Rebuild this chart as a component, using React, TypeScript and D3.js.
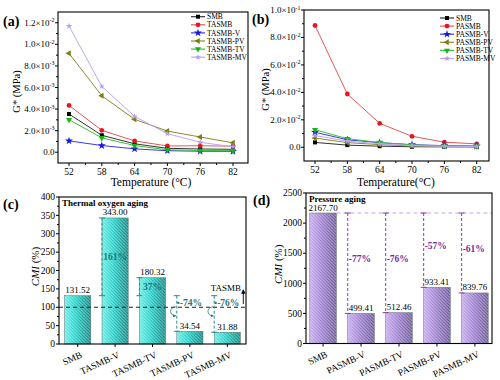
import React from "react";
import * as d3 from "d3";

// ---------- data ----------
const temps = [52, 58, 64, 70, 76, 82];

// panel (a) thermal oxygen aging, G* (MPa)
const smb = [3.54e-3, 1.57e-3, 0.78e-3, 0.36e-3, 0.3e-3, 0.27e-3];
const tasmb = [4.34e-3, 2.03e-3, 1.05e-3, 0.58e-3, 0.6e-3, 0.56e-3];
const tasmbV = [1.05e-3, 0.62e-3, 0.31e-3, 0.14e-3, 0.09e-3, 0.08e-3];
const tasmbPV = [9.17e-3, 5.23e-3, 3.05e-3, 1.96e-3, 1.41e-3, 0.87e-3];
const tasmbTV = [3.02e-3, 1.33e-3, 0.62e-3, 0.22e-3, 0.17e-3, 0.14e-3];
const tasmbMV = [11.7e-3, 6.1e-3, 3.32e-3, 1.72e-3, 0.92e-3, 0.5e-3];
const namesA = ["SMB", "TASMB", "TASMB-V", "TASMB-PV", "TASMB-TV", "TASMB-MV"];

// panel (b) pressure aging, G* (MPa)
const pasmb = [0.0887, 0.0388, 0.0174, 0.008, 0.0037, 0.0025];
const pasmbV = [0.0109, 0.0055, 0.0033, 0.0019, 0.0012, 0.0009];
const pasmbPV = [0.0067, 0.0034, 0.0019, 0.001, 0.0006, 0.0004];
const pasmbTV = [0.0128, 0.0062, 0.0035, 0.0017, 0.001, 0.0007];
const pasmbMV = [0.0085, 0.0045, 0.0025, 0.0012, 0.0007, 0.0005];
const namesB = ["SMB", "PASMB", "PASMB-V", "PASMB-PV", "PASMB-TV", "PASMB-MV"];

const yTicksA = [0, 0.002, 0.004, 0.006, 0.008, 0.01, 0.012];
const yMantA = ["0.0", "2.0", "4.0", "6.0", "8.0", "1.0", "1.2"];
const yExpA = ["", "-3", "-3", "-3", "-3", "-2", "-2"];
const yTicksB = [0, 0.02, 0.04, 0.06, 0.08, 0.1];
const yMantB = ["0.0", "2.0", "4.0", "6.0", "8.0", "1.0"];
const yExpB = ["", "-2", "-2", "-2", "-2", "-1"];

// panel (c) CMI thermal oxygen aging
const catsC = ["SMB", "TASMB-V", "TASMB-TV", "TASMB-PV", "TASMB-MV"];
const valsC = [131.52, 343.0, 180.32, 34.54, 31.88];
const changeC = ["", "161%", "37%", "-74%", "-76%"];
const refC = 100;
const yTicksC = [0, 50, 100, 150, 200, 250, 300, 350, 400];

// panel (d) CMI pressure aging
const catsD = ["SMB", "PASMB-V", "PASMB-TV", "PASMB-PV", "PASMB-MV"];
const valsD = [2167.7, 499.41, 512.46, 933.41, 839.76];
const changeD = ["", "-77%", "-76%", "-57%", "-61%"];
const yTicksD = [0, 500, 1000, 1500, 2000, 2500];

// ---------- styles ----------
const FONT = '"Liberation Serif", "DejaVu Serif", serif';
const colors = ["#000000", "#e8161c", "#1414f0", "#7d7d10", "#12b812", "#b79cf2"];
const lineColors = ["#333333", "#e05a5a", "#3a3ae8", "#8c8c30", "#3cc03c", "#c0a8f0"];
const symbolTypes = [
  { t: d3.symbolSquare, r: 0, s: 16 },
  { t: d3.symbolCircle, r: 0, s: 18 },
  { t: d3.symbolStar, r: 0, s: 20 },
  { t: d3.symbolTriangle, r: -90, s: 16 },
  { t: d3.symbolTriangle, r: 180, s: 16 },
  { t: d3.symbolStar, r: 0, s: 12 },
];

function Marker({ x, y, i }: { x: number; y: number; i: number }) {
  const st = symbolTypes[i];
  const d = d3.symbol().type(st.t).size(st.s)() as string;
  return <path d={d} transform={`translate(${x},${y}) rotate(${st.r})`} fill={colors[i]} />;
}

function SciLabel({ x, y, m, e }: { x: number; y: number; m: string; e: string }) {
  return (
    <text x={x} y={y + 3} textAnchor="end" fontSize={9}>
      {e ? (
        <>
          {m}×10<tspan fontSize={6} dy={-3.5}>{e}</tspan>
        </>
      ) : (
        m
      )}
    </text>
  );
}

type LPProps = {
  L: number; R: number; T: number; B: number;
  xRange: [number, number]; yDom: [number, number];
  series: number[][]; names: string[];
  yTicks: number[]; yMant: string[]; yExp: string[];
  tag: string; xTitle: string; tagX: number; yTitleX: number;
  legX: number; legY: number;
};

function LinePanel(p: LPProps) {
  const x = d3.scaleLinear().domain([52, 82]).range(p.xRange);
  const y = d3.scaleLinear().domain(p.yDom).range([p.B, p.T]);
  const line = d3.line<number>().x((_, i) => x(temps[i])).y((v) => y(v));
  const step = p.yTicks[1] - p.yTicks[0];
  const minorY = p.yTicks.map((t) => t + step / 2).filter((v) => y(v) > p.T);
  const minorX = temps.slice(0, -1).map((t) => t + 3);
  return (
    <g>
      <rect x={p.L} y={p.T} width={p.R - p.L} height={p.B - p.T} fill="none" stroke="#000" strokeWidth={1.1} />
      {p.yTicks.map((t, i) => (
        <g key={t}>
          <line x1={p.L - 3} x2={p.L} y1={y(t)} y2={y(t)} stroke="#000" />
          <SciLabel x={p.L - 3.5} y={y(t)} m={p.yMant[i]} e={p.yExp[i]} />
        </g>
      ))}
      {minorY.map((t) => (
        <line key={t} x1={p.L - 2} x2={p.L} y1={y(t)} y2={y(t)} stroke="#000" />
      ))}
      {temps.map((t) => (
        <g key={t}>
          <line x1={x(t)} x2={x(t)} y1={p.B} y2={p.B + 3} stroke="#000" />
          <text x={x(t)} y={p.B + 12} textAnchor="middle" fontSize={9.5}>{t}</text>
        </g>
      ))}
      {minorX.map((t) => (
        <line key={t} x1={x(t)} x2={x(t)} y1={p.B} y2={p.B + 2} stroke="#000" />
      ))}
      {p.series.map((s, i) => (
        <g key={i}>
          <path d={line(s) as string} fill="none" stroke={lineColors[i]} strokeWidth={1} />
          {s.map((v, j) => (
            <Marker key={j} x={x(temps[j])} y={y(v)} i={i} />
          ))}
        </g>
      ))}
      {p.names.map((n, i) => {
        const ly = p.legY + i * 8.1;
        return (
          <g key={n}>
            <line x1={p.legX} x2={p.legX + 14} y1={ly} y2={ly} stroke={lineColors[i]} strokeWidth={1.2} />
            <Marker x={p.legX + 7} y={ly} i={i} />
            <text x={p.legX + 16} y={ly + 2.6} fontSize={7.5}>{n}</text>
          </g>
        );
      })}
      <text x={(p.xRange[0] + p.xRange[1]) / 2} y={186} textAnchor="middle" fontSize={11.5}>{p.xTitle}</text>
      <text transform={`translate(${p.yTitleX},${(p.T + p.B) / 2 + 4}) rotate(-90)`} textAnchor="middle" fontSize={10.5}>G* (MPa)</text>
      <text x={p.tagX} y={p.T + 14} fontSize={14} fontWeight="bold">{p.tag}</text>
    </g>
  );
}

type BPProps = {
  L: number; R: number; T: number; B: number; yMax: number;
  cats: string[]; vals: number[]; change: string[]; yTicks: number[]; minorStep: number;
  fill: string; capColor: string; textColor: string; title: string; tag: string;
  tagX: number; yTitleX: number; kind: "c" | "d";
};

function BarPanel(p: BPProps) {
  const x = d3.scaleBand<string>().domain(p.cats).range([p.L, p.R]).paddingInner(0.3).paddingOuter(p.kind === "c" ? 0.15 : 0.1);
  const y = d3.scaleLinear().domain([0, p.yMax]).range([p.B, p.T]);
  const bw = x.bandwidth();
  const minor = d3.range(p.minorStep, p.yMax, p.minorStep * 2);
  const base = p.vals[0];
  return (
    <g>
      {p.cats.map((c, i) => (
        <g key={c}>
          <rect x={x(c)} y={y(p.vals[i])} width={bw} height={p.B - y(p.vals[i])} fill={`url(#${p.fill}Grad)`} />
          <rect x={x(c)} y={y(p.vals[i])} width={bw} height={p.B - y(p.vals[i])} fill="url(#hatch)" mask="url(#hatchMask)" />
          <rect x={x(c)} y={y(p.vals[i])} width={bw} height={p.B - y(p.vals[i])} fill="none" stroke="#5a6a6a" strokeWidth={0.5} />
          <text x={(x(c) as number) + bw / 2} y={y(p.vals[i]) - 2.5} textAnchor="middle" fontSize={9}>
            {p.vals[i].toFixed(2)}
          </text>
        </g>
      ))}
      {p.kind === "c" && (
        <g>
          <line x1={p.L} x2={p.R} y1={y(refC)} y2={y(refC)} stroke="#222" strokeWidth={1.2} strokeDasharray="4,3" />
          <text x={241} y={291} textAnchor="end" fontSize={9}>TASMB</text>
          <line x1={243.3} x2={243.3} y1={304} y2={290} stroke="#000" strokeWidth={0.9} markerEnd="url(#arrBlack)" />
        </g>
      )}
      {p.kind === "d" && (
        <line x1={(x(p.cats[0]) as number) + bw} x2={p.R} y1={y(base)} y2={y(base)} stroke="#c9a6ee" strokeWidth={1.2} strokeDasharray="4,3" />
      )}
      {p.cats.slice(1).map((c, k) => {
        const i = k + 1;
        const lx = x(c) as number;
        const v = p.vals[i];
        const y1 = y(base);
        const y2 = y(v);
        const neg = v < base;
        let labelY: number;
        if (p.kind === "c") labelY = neg ? y(112) : y((base + v) / 2);
        else labelY = y((base + v) / 2 + 70);
        return (
          <g key={c}>
            <line x1={lx} x2={lx} y1={y1} y2={y2} stroke={p.capColor} strokeWidth={1} strokeDasharray="3,2" />
            <line x1={lx - 3} x2={lx + 3} y1={y1} y2={y1} stroke={p.capColor} strokeWidth={1} />
            <line x1={lx - 3} x2={lx + 3} y1={y2} y2={y2} stroke={p.capColor} strokeWidth={1} />
            {p.kind === "c" && !neg && (
              <text x={lx + bw / 2} y={labelY + 3.2} textAnchor="middle" fontSize={9.5} fontWeight="bold" fill={p.textColor}>
                {p.change[i]}
              </text>
            )}
            {p.kind === "c" && neg && (
              <g>
                <circle cx={lx + 1.5} cy={labelY} r={1.2} fill={p.textColor} />
                <text x={lx + 3} y={labelY + 3.2} fontSize={9.5} fontWeight="bold" fill={p.textColor}>
                  {p.change[i]}
                </text>
                <path d={`M${lx - 1},${labelY + 4} C${lx - 8},${labelY + 4} ${lx - 8},${labelY + 13} ${lx - 1},${labelY + 13}`} fill="none" stroke={p.textColor} strokeWidth={0.8} markerEnd="url(#arrTeal)" />
              </g>
            )}
            {p.kind === "d" && (
              <text x={lx + 1} y={labelY + 3.2} fontSize={9.5} fontWeight="bold" fill={p.textColor}>
                {p.change[i]}
              </text>
            )}
          </g>
        );
      })}
      <rect x={p.L} y={p.T} width={p.R - p.L} height={p.B - p.T} fill="none" stroke="#000" strokeWidth={1.1} />
      {p.yTicks.map((t) => (
        <g key={t}>
          <line x1={p.L - 3} x2={p.L} y1={y(t)} y2={y(t)} stroke="#000" />
          <text x={p.L - 4} y={y(t) + 3.2} textAnchor="end" fontSize={9.5}>{t}</text>
        </g>
      ))}
      {minor.map((t) => (
        <line key={t} x1={p.L - 2} x2={p.L} y1={y(t)} y2={y(t)} stroke="#000" />
      ))}
      {p.cats.map((c) => {
        const cx = (x(c) as number) + bw / 2;
        return (
          <g key={c}>
            <line x1={cx} x2={cx} y1={p.B} y2={p.B + 3} stroke="#000" />
            <text transform={`translate(${cx + 5},${p.B + 13}) rotate(-25)`} textAnchor="end" fontSize={9.5}>{c}</text>
          </g>
        );
      })}
      <text x={p.L + 3} y={p.T + 9} fontSize={9} fontWeight="bold">{p.title}</text>
      <text transform={`translate(${p.yTitleX},${(p.T + p.B) / 2 - 4}) rotate(-90)`} textAnchor="middle" fontSize={11}>
        <tspan fontStyle="italic">CMI</tspan> (%)
      </text>
      <text x={p.tagX} y={p.T + 12} fontSize={14} fontWeight="bold">{p.tag}</text>
    </g>
  );
}

export default function App() {
  return (
    <svg width={500} height={380} viewBox="0 0 500 380" style={{ position: "absolute", left: 0, top: 0, background: "#fff", fontFamily: FONT }}>
      <defs>
        <linearGradient id="cyanGrad" x1="0" x2="1" y1="0" y2="0">
          <stop offset="0" stopColor="#86fbf6" />
          <stop offset="0.45" stopColor="#49efe8" />
          <stop offset="1" stopColor="#37c2bd" />
        </linearGradient>
        <linearGradient id="lavGrad" x1="0" x2="1" y1="0" y2="0">
          <stop offset="0" stopColor="#d9c2fb" />
          <stop offset="0.45" stopColor="#c2a2f2" />
          <stop offset="1" stopColor="#a68ad6" />
        </linearGradient>
        <pattern id="hatch" patternUnits="userSpaceOnUse" width={3.2} height={3.2}>
          <path d="M-1,-1 L4.2,4.2 M-1,2.2 L1,4.2 M2.2,-1 L4.2,1" stroke="#3d4a4a" strokeWidth={0.9} />
        </pattern>
        <linearGradient id="maskGrad" x1="0" x2="1" y1="0" y2="0">
          <stop offset="0" stopColor="#fff" stopOpacity={0.15} />
          <stop offset="0.4" stopColor="#fff" stopOpacity={0.35} />
          <stop offset="1" stopColor="#fff" stopOpacity={0.85} />
        </linearGradient>
        <mask id="hatchMask" maskContentUnits="objectBoundingBox">
          <rect x={0} y={0} width={1} height={1} fill="url(#maskGrad)" />
        </mask>
        <marker id="arrBlack" viewBox="0 0 6 6" refX={5} refY={3} markerWidth={5} markerHeight={5} orient="auto">
          <path d="M0,0 L6,3 L0,6 z" fill="#000" />
        </marker>
        <marker id="arrTeal" viewBox="0 0 6 6" refX={5} refY={3} markerWidth={4} markerHeight={4} orient="auto">
          <path d="M0,0 L6,3 L0,6 z" fill="#1e7a78" />
        </marker>
      </defs>
      <LinePanel
        L={58} R={248} T={12} B={163} xRange={[69, 233]} yDom={[-0.001, 0.013]}
        series={[smb, tasmb, tasmbV, tasmbPV, tasmbTV, tasmbMV]} names={namesA}
        yTicks={yTicksA} yMant={yMantA} yExp={yExpA}
        tag="(a)" xTitle="Temperature (°C)" tagX={3} yTitleX={20} legX={191} legY={16.7}
      />
      <LinePanel
        L={304} R={489} T={10} B={161} xRange={[315, 476.7]} yDom={[-0.01, 0.1]}
        series={[smb, pasmb, pasmbV, pasmbPV, pasmbTV, pasmbMV]} names={namesB}
        yTicks={yTicksB} yMant={yMantB} yExp={yExpB}
        tag="(b)" xTitle="Temperature(°C)" tagX={252} yTitleX={269} legX={440} legY={18}
      />
      <BarPanel
        L={59} R={246} T={197} B={344} yMax={400} cats={catsC} vals={valsC} change={changeC}
        yTicks={yTicksC} minorStep={25} fill="cyan" capColor="#2a8c8a" textColor="#1e7a78"
        title="Thermal oxygen aging" tag="(c)" tagX={3} yTitleX={39} kind="c"
      />
      <BarPanel
        L={306} R={492} T={193} B={343.5} yMax={2500} cats={catsD} vals={valsD} change={changeD}
        yTicks={yTicksD} minorStep={250} fill="lav" capColor="#8a3ca6" textColor="#7a2a9a"
        title="Pressure aging" tag="(d)" tagX={253} yTitleX={282} kind="d"
      />
    </svg>
  );
}
